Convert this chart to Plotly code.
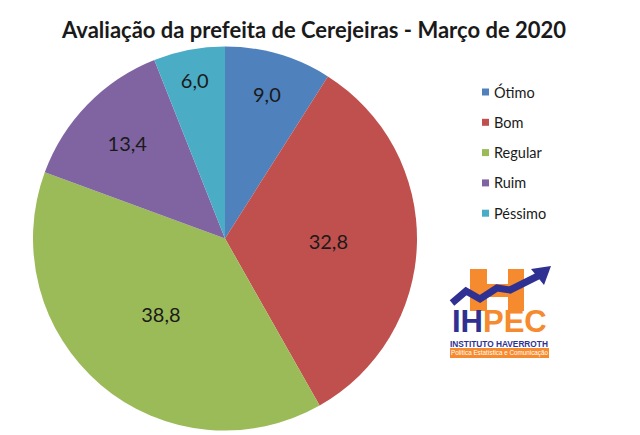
import plotly.graph_objects as go

# Data
labels = ["Ótimo", "Bom", "Regular", "Ruim", "Péssimo"]
values = [9.0, 32.8, 38.8, 13.4, 6.0]
colors = ["#4F81BD", "#C0504D", "#9BBB59", "#8064A2", "#4BACC6"]
text_labels = [f"{v:.1f}".replace(".", ",") for v in values]

W, H = 640, 435
OFF = 8  # page body margin pushes the figure 8px right/down


def px(x):
    return (x - OFF) / W


def py(y):
    return 1 - (y - OFF) / H


fig = go.Figure()

fig.add_trace(go.Pie(
    labels=labels,
    values=values,
    text=text_labels,
    textinfo="text",
    textposition="inside",
    insidetextorientation="horizontal",
    textfont=dict(size=20, color="#1a1a1a", family="Lato, Open Sans, sans-serif"),
    marker=dict(colors=colors, line=dict(width=0)),
    sort=False,
    direction="clockwise",
    rotation=0,
    showlegend=False,
    domain=dict(x=[px(33), px(417)], y=[py(431), py(46)]),
    hoverinfo="label+value",
))

shapes = []
annotations = []

# Legend drawn by hand (wider row spacing than plotly's legend)
leg_x, leg_y0, leg_dy = 482, 92, 30.3
for i, (lab, col) in enumerate(zip(labels, colors)):
    yc = leg_y0 + i * leg_dy
    shapes.append(dict(type="rect", xref="paper", yref="paper",
                       x0=px(leg_x), x1=px(leg_x + 7), y0=py(yc + 3.5), y1=py(yc - 3.5),
                       fillcolor=col, line=dict(width=0)))
    annotations.append(dict(text=lab, x=px(leg_x + 10), y=py(yc), xref="paper", yref="paper",
                            xanchor="left", yanchor="middle", showarrow=False,
                            font=dict(size=14.5, color="#1a1a1a", family="Lato, Open Sans, sans-serif")))

# IHPEC logo
orange = "#F58A2E"
navy = "#2E3192"
for x0, x1 in [(470, 487), (508, 524)]:
    shapes.append(dict(type="rect", xref="paper", yref="paper",
                       x0=px(x0), x1=px(x1), y0=py(311), y1=py(269),
                       fillcolor=orange, line=dict(width=0)))
shapes.append(dict(type="rect", xref="paper", yref="paper",
                   x0=px(487), x1=px(508), y0=py(297), y1=py(284),
                   fillcolor=orange, line=dict(width=0)))
zig = [(452, 303), (466, 291), (480, 299), (497, 288), (510, 290), (538, 276)]
path = "M " + " L ".join(f"{px(x)},{py(y)}" for x, y in zig)
shapes.append(dict(type="path", xref="paper", yref="paper", path=path,
                   line=dict(color=navy, width=7)))
head = [(551, 266), (531, 269), (544, 285)]
shapes.append(dict(type="path", xref="paper", yref="paper",
                   path="M " + " L ".join(f"{px(x)},{py(y)}" for x, y in head) + " Z",
                   fillcolor=navy, line=dict(width=0)))
annotations.append(dict(
    text=f"<b><span style='color:{navy}'>IH</span><span style='color:{orange}'>PEC</span></b>",
    x=px(499), y=py(321), xref="paper", yref="paper", showarrow=False,
    xanchor="center", yanchor="middle",
    font=dict(size=31, family="Liberation Sans, Arial")))
annotations.append(dict(
    text="<b>INSTITUTO HAVERROTH</b>", x=px(499), y=py(343.5), xref="paper", yref="paper",
    showarrow=False, xanchor="center", yanchor="middle",
    font=dict(size=8.3, color=navy, family="Liberation Sans, Arial")))
shapes.append(dict(type="rect", xref="paper", yref="paper",
                   x0=px(450), x1=px(549), y0=py(358), y1=py(348),
                   fillcolor=orange, line=dict(width=0)))
annotations.append(dict(
    text="Política Estatística e Comunicação", x=px(499), y=py(353), xref="paper", yref="paper",
    showarrow=False, xanchor="center", yanchor="middle",
    font=dict(size=6.3, color="white", family="Liberation Sans, Arial")))

fig.update_layout(
    width=W, height=H,
    margin=dict(l=0, r=0, t=0, b=0),
    paper_bgcolor="white",
    plot_bgcolor="white",
    title=dict(text="<b>Avaliação da prefeita de Cerejeiras - Março de 2020</b>",
               x=px(314), xanchor="center", y=py(30), yanchor="middle",
               font=dict(size=22, color="#1a1a1a", family="Lato, Open Sans, sans-serif")),
    shapes=shapes,
    annotations=annotations,
)

fig.write_html("out.html")
